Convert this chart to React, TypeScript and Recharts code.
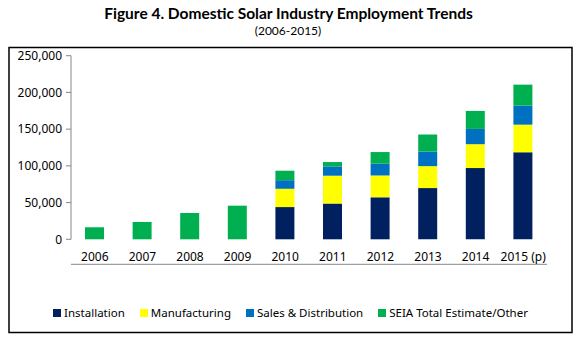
import React from 'react';
import { BarChart, Bar, XAxis, YAxis, Legend } from 'recharts';

const years = ['2006', '2007', '2008', '2009', '2010', '2011', '2012', '2013', '2014', '2015 (p)'];
const installation = [null, null, null, null, 43900, 48700, 57200, 69700, 97000, 118500];
const manufacturing = [null, null, null, null, 24900, 37900, 29700, 29900, 32500, 37600];
const salesDistribution = [null, null, null, null, 11700, 12700, 16000, 19800, 20800, 25900];
const otherEstimate = [16400, 23600, 35800, 45800, 12900, 5900, 15900, 23300, 24500, 28600];
const yTicks = [0, 50000, 100000, 150000, 200000, 250000];

const seriesNames = ['Installation', 'Manufacturing', 'Sales & Distribution', 'SEIA Total Estimate/Other'];
const seriesColors = ['#002060', '#FFFF00', '#0070C0', '#00B050'];
const seriesKeys = ['installation', 'manufacturing', 'sales', 'other'];

const data = years.map((year, i) => ({
  year,
  slot: i + 0.5,
  installation: installation[i],
  manufacturing: manufacturing[i],
  sales: salesDistribution[i],
  other: otherEstimate[i],
}));

const boundaryTicks = years.map((_, i) => i).concat([years.length]);

const FONT = '"Noto Sans", sans-serif';

const fmt = (v: number) => v.toLocaleString('en-US');

const LegendContent = () => (
  <div
    style={{
      display: 'flex',
      justifyContent: 'center',
      alignItems: 'center',
      gap: 15,
      fontFamily: FONT,
      fontSize: 11.5,
      color: '#000',
      width: 583,
      paddingRight: 2,
      boxSizing: 'border-box',
    }}
  >
    {seriesNames.map((name, i) => (
      <div key={name} style={{ display: 'flex', alignItems: 'center' }}>
        <span style={{ width: 8, height: 8, background: seriesColors[i], marginRight: 3, display: 'inline-block' }} />
        <span style={{ lineHeight: '14px' }}>{name}</span>
      </div>
    ))}
  </div>
);

export default function App() {
  return (
    <div style={{ position: 'absolute', left: 0, top: 0, width: 583, height: 338, background: '#fff' }}>
      <svg width={583} height={338} style={{ position: 'absolute', left: 0, top: 0 }}>
        <text x={288.5} y={18.5} textAnchor="middle" fontFamily='Lato, sans-serif' fontWeight="bold" fontSize={15.5} fill="#000">
          Figure 4. Domestic Solar Industry Employment Trends
        </text>
        <text x={288} y={35} textAnchor="middle" fontFamily='Lato, sans-serif' fontSize={12} fill="#000">
          (2006-2015)
        </text>
        <rect x={9} y={47.5} width={563} height={285} fill="none" stroke="#000" strokeWidth={1.5} />
      </svg>
      <div style={{ position: 'absolute', left: 0, top: 0 }}>
        <BarChart
          width={583}
          height={338}
          data={data}
          margin={{ top: 55.7, right: 36, bottom: 68.7, left: 11 }}
        >
          <XAxis
            xAxisId="b"
            dataKey="slot"
            type="number"
            domain={[0, years.length]}
            ticks={boundaryTicks}
            allowDataOverflow
            height={5}
            tick={false}
            tickSize={5}
            stroke="#868686"
            axisLine={{ stroke: '#868686' }}
            tickLine={{ stroke: '#868686' }}
          />
          <XAxis
            xAxisId="a"
            dataKey="year"
            height={25}
            axisLine={false}
            tickLine={false}
            tickSize={5}
            tickMargin={8}
            interval={0}
            tick={{ fontFamily: FONT, fontSize: 12, fill: '#000' }}
          />
          <YAxis
            width={60}
            domain={[0, 250000]}
            ticks={yTicks}
            tickFormatter={fmt}
            tickSize={5}
            tickMargin={4}
            stroke="#868686"
            tick={{ fontFamily: FONT, fontSize: 12, fill: '#000' }}
          />
          <Legend
            verticalAlign="middle"
            align="center"
            content={<LegendContent />}
            wrapperStyle={{ position: 'absolute', left: 0, top: 306, width: 583 }}
          />
          {seriesKeys.map((k, i) => (
            <Bar
              key={k}
              xAxisId="a"
              dataKey={k}
              name={seriesNames[i]}
              stackId="s"
              fill={seriesColors[i]}
              barSize={19}
              isAnimationActive={false}
            />
          ))}
        </BarChart>
      </div>
    </div>
  );
}
